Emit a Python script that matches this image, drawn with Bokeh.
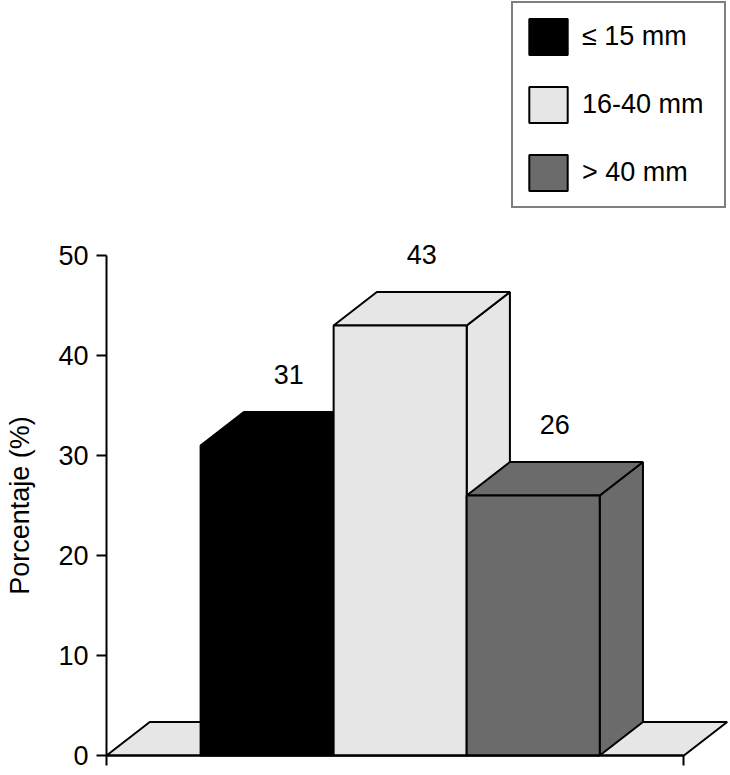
import math
from bokeh.plotting import figure
from bokeh.models import FixedTicker, Legend, LegendItem, Range1d
from bokeh.embed import file_html
from bokeh.resources import INLINE
from bokeh.core.properties import value

# ---- data ----
categories = ["≤ 15 mm", "16-40 mm", "> 40 mm"]
percentages = [31, 43, 26]
y_ticks = [0, 10, 20, 30, 40, 50]
y_title = "Porcentaje (%)"

# ---- style / geometry ----
colors = ["#000000", "#e6e6e6", "#6b6b6b"]
FONT = "Liberation Sans"
FS = "27px"
W, H = 730, 775
x_start, x_end = -0.797, 4.69
y_start, y_end = -2.0, 75.5
bar_w = 1.0
x0 = 0.707             # gap between axis and first bar
dx, dy = 0.325, 3.35   # 3D depth offsets
floor_end = 4.34
title_x = -0.647       # position of the rotated y title (left of the axis)

p = figure(width=W, height=H, output_backend="svg", toolbar_location=None,
           x_range=Range1d(x_start, x_end), y_range=Range1d(y_start, y_end),
           min_border_left=0, min_border_right=0, min_border_top=0,
           min_border_bottom=0)
p.grid.visible = False
p.outline_line_color = None
p.background_fill_color = "white"

# y axis, fixed at x = 0
ya = p.yaxis[0]
ya.fixed_location = 0
ya.ticker = FixedTicker(ticks=y_ticks)
ya.bounds = (0, 50)
ya.axis_line_width = 2
ya.axis_line_color = "black"
ya.major_tick_line_width = 2
ya.major_tick_line_color = "black"
ya.major_tick_out = 10
ya.major_tick_in = 0
ya.minor_tick_out = 0
ya.minor_tick_in = 0
ya.major_label_text_font = FONT
ya.major_label_text_font_size = FS
ya.major_label_text_color = "black"
ya.major_label_standoff = 8

# x axis (baseline with two end ticks), fixed at y = 0
xa = p.xaxis[0]
xa.fixed_location = 0
xa.ticker = FixedTicker(ticks=[0, floor_end])
xa.bounds = (0, floor_end)
xa.axis_line_width = 2
xa.axis_line_color = "black"
xa.major_tick_line_width = 2
xa.major_tick_line_color = "black"
xa.major_tick_out = 10
xa.major_tick_in = 0
xa.minor_tick_out = 0
xa.minor_tick_in = 0
xa.major_label_text_font_size = "0px"
xa.major_label_text_alpha = 0
xa.major_label_standoff = 0

# floor
p.patch([0, dx, floor_end + dx, floor_end], [0, dy, dy, 0],
        fill_color="#e6e6e6", line_color="black", line_width=2)

items = []
for i, (cat, v, c) in enumerate(zip(categories, percentages, colors)):
    left = x0 + i * bar_w
    right = left + bar_w
    side_xs = [right, right, right + dx, right + dx]
    side_ys = [0, v, v + dy, dy]
    top_xs = [left, left + dx, right + dx, right]
    top_ys = [v, v + dy, v + dy, v]
    p.patches([side_xs, top_xs], [side_ys, top_ys], fill_color=c,
              line_color="black", line_width=2)
    r = p.quad(left=left, right=right, bottom=0, top=v, fill_color=c,
               line_color="black", line_width=2)
    items.append(LegendItem(label=cat, renderers=[r]))

# value labels
lx = [x0 + i * bar_w + bar_w / 2 + dx / 2 for i in range(len(percentages))]
ly = [v + dy + 3.8 for v in percentages]
p.text(x=lx, y=ly, text=[str(v) for v in percentages],
       text_font=value(FONT), text_font_size=FS, text_color="black",
       text_align="center", text_baseline="middle")

# y title, centred on the 0-50 span of the axis
p.text(x=[title_x], y=[(y_ticks[0] + y_ticks[-1]) / 2], text=[y_title],
       angle=math.pi / 2, text_font=value(FONT), text_font_size=FS,
       text_color="black", text_align="center", text_baseline="middle")

legend = Legend(items=items, location=(511, 567), margin=0, padding=11,
                spacing=23, glyph_width=48, glyph_height=45,
                label_standoff=10, label_width=131, label_height=45,
                label_text_font=FONT, label_text_font_size=FS,
                label_text_color="black",
                border_line_color="black", border_line_width=2,
                background_fill_color="white", background_fill_alpha=1)
p.add_layout(legend)

open("out.html", "w").write(file_html(p, INLINE))
